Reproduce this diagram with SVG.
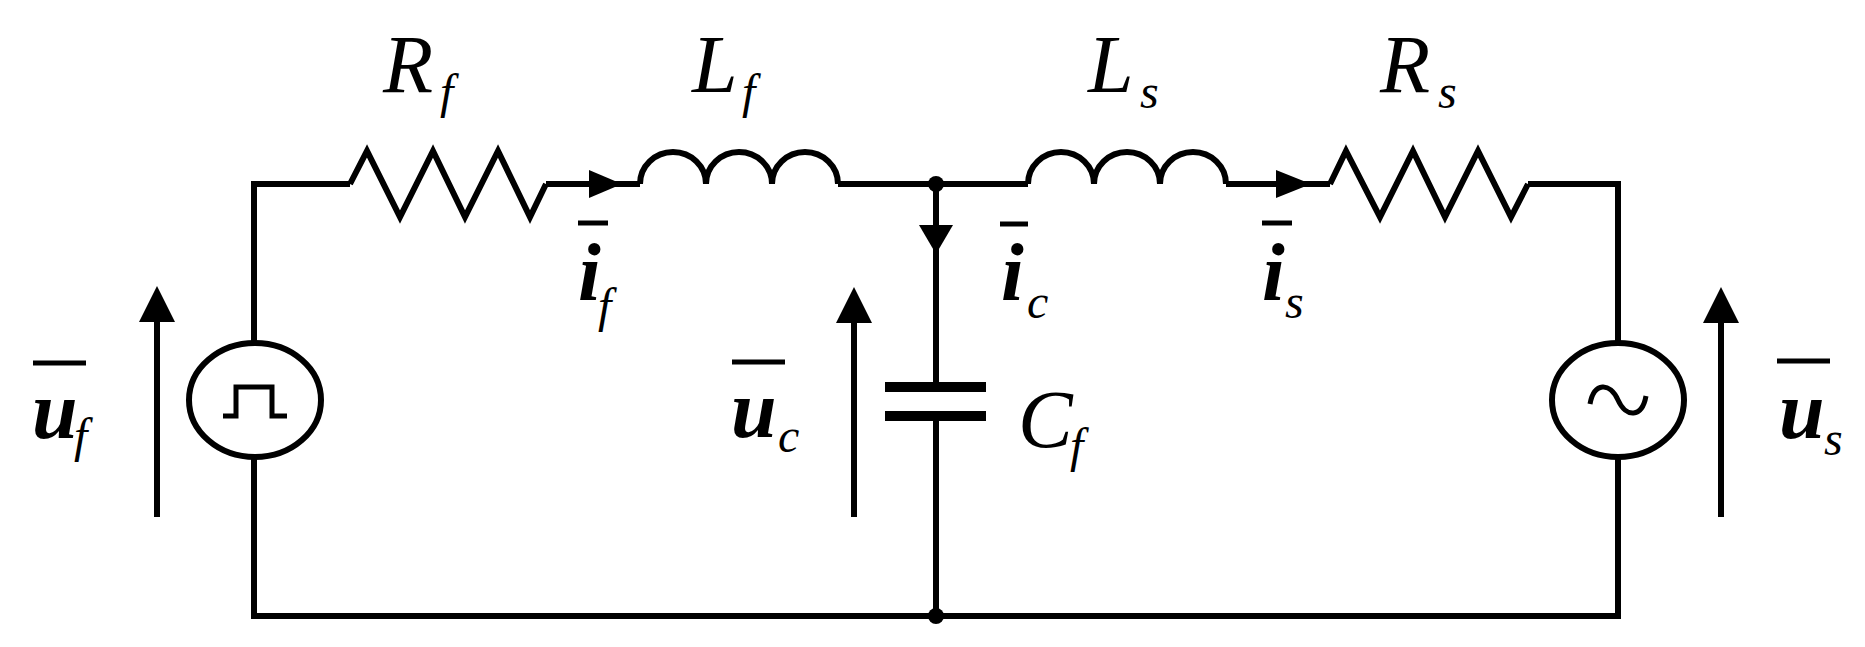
<svg xmlns="http://www.w3.org/2000/svg" width="1865" height="647" viewBox="0 0 1865 647">
<style>
.w{fill:none;stroke:#000;stroke-width:6;stroke-linejoin:miter}
text{font-family:'Liberation Serif','Times New Roman','DejaVu Serif',serif;font-style:italic;fill:#000}
.big{font-size:82px}
.sub{font-size:48px}
.bar{stroke:#000;stroke-width:5}
</style>
<rect width="1865" height="647" fill="#fff"/>
<g id="connectors">
<path class="w" d="M254,342 V184 H350"/>
<path class="w" d="M546,184 H640"/>
<path class="w" d="M838,184 H1028"/>
<path class="w" d="M1226,184 H1330"/>
<path class="w" d="M1528,184 H1618 V342"/>
<path class="w" d="M254,458 V616 H1618 V458"/>
<path class="w" d="M936,184 V387"/>
<path class="w" d="M936,416 V616"/>
<circle cx="936" cy="184" r="8"/>
<circle cx="936" cy="616" r="8"/>
</g>
<g id="Rf"><path class="w" d="M350,184 L367,151 L400,217 L433,151 L465,217 L498,151 L530,217 L546,184"/>
<text class="big" x="383" y="92">R</text><text class="sub" x="440" y="108">f</text></g>
<g id="Lf"><path class="w" d="M640,184 A33,32 0 0 1 706,184 A33,32 0 0 1 772,184 A33,32 0 0 1 838,184"/>
<text class="big" x="692" y="92">L</text><text class="sub" x="742" y="108">f</text></g>
<g id="Ls"><path class="w" d="M1028,184 A33,32 0 0 1 1094,184 A33,32 0 0 1 1160,184 A33,32 0 0 1 1226,184"/>
<text class="big" x="1088" y="92">L</text><text class="sub" x="1140" y="108">s</text></g>
<g id="Rs"><path class="w" d="M1330,184 L1346,151 L1380,217 L1413,151 L1445,217 L1478,151 L1511,217 L1528,184"/>
<text class="big" x="1380" y="92">R</text><text class="sub" x="1438" y="108">s</text></g>
<g id="arrow-if"><path d="M589,170 L622,184 L589,198 Z"/>
<line class="bar" x1="578" y1="223" x2="608" y2="223"/><text class="big" x="578" y="300" font-weight="bold">i</text><text class="sub" x="598" y="322">f</text></g>
<g id="arrow-ic"><path d="M919,225 L953,225 L936,254 Z"/>
<line class="bar" x1="1000" y1="224" x2="1028" y2="224"/><text class="big" x="1001" y="300" font-weight="bold">i</text><text class="sub" x="1027" y="318">c</text></g>
<g id="arrow-is"><path d="M1276,170 L1311,184 L1276,198 Z"/>
<line class="bar" x1="1262" y1="223" x2="1292" y2="223"/><text class="big" x="1262" y="300" font-weight="bold">i</text><text class="sub" x="1285" y="318">s</text></g>
<g id="Cf"><rect x="885" y="382" width="101" height="10"/><rect x="885" y="411" width="101" height="10"/>
<text class="big" x="1018" y="447">C</text><text class="sub" x="1070" y="462">f</text></g>
<g id="uf-source"><ellipse class="w" cx="255" cy="400" rx="66" ry="57"/>
<path fill="none" stroke="#000" stroke-width="5" d="M223,416 H236 V387 H272 V416 H287"/></g>
<g id="us-source"><ellipse class="w" cx="1618" cy="400" rx="66" ry="57"/>
<path fill="none" stroke="#000" stroke-width="5" d="M1590,404 C1594,382 1610,382 1618,400 C1626,418 1642,418 1646,396"/></g>
<g id="uf"><line x1="157" y1="517" x2="157" y2="318" stroke="#000" stroke-width="6"/><path d="M139,322 L157,286 L175,322 Z"/>
<line class="bar" x1="33" y1="363" x2="86" y2="363"/><text class="big" x="32" y="438" font-weight="bold">u</text><text class="sub" x="74" y="452">f</text></g>
<g id="uc"><line x1="854" y1="517" x2="854" y2="318" stroke="#000" stroke-width="6"/><path d="M836,323 L854,287 L872,323 Z"/>
<line class="bar" x1="732" y1="362" x2="785" y2="362"/><text class="big" x="731" y="437" font-weight="bold">u</text><text class="sub" x="778" y="452">c</text></g>
<g id="us"><line x1="1721" y1="517" x2="1721" y2="318" stroke="#000" stroke-width="6"/><path d="M1703,323 L1721,287 L1739,323 Z"/>
<line class="bar" x1="1777" y1="361" x2="1830" y2="361"/><text class="big" x="1779" y="438" font-weight="bold">u</text><text class="sub" x="1824" y="455">s</text></g>
</svg>
